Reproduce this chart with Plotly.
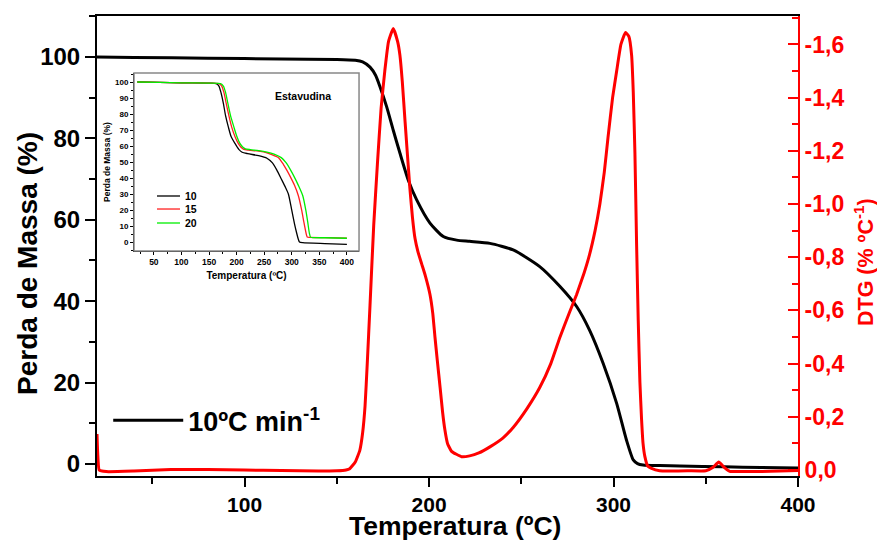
import plotly.graph_objects as go

# ---------------- main TG curve (10 ºC/min) ----------------
tg_temp = [20, 40, 80, 120, 150, 160, 164, 168, 171, 173.4, 177, 180.6, 184.2, 188.7,
           193.3, 200.5, 207.7, 215, 222, 233, 245.6, 260, 271, 280, 287, 294.4, 301.7,
           307, 310.7, 313, 316, 325, 336, 360, 380, 400]
tg_mass = [100, 99.9, 99.7, 99.5, 99.4, 99.2, 98.8, 97.5, 95.5, 92.7, 87.8, 82, 76.4, 69.8,
           64.9, 59.2, 55.9, 55, 54.7, 54.2, 52.6, 48.5, 43.6, 38.7, 32.9, 24.7, 14.9,
           5.9, 1.0, 0.1, -0.25, -0.4, -0.5, -0.7, -0.85, -1.0]

# ---------------- main DTG curve (% ºC-1) ----------------
dtg_temp = [20, 20.4, 21.2, 25, 40, 60, 80, 100, 120, 140, 150, 155, 157, 160, 162.5, 164,
            165.3, 166.5, 168, 170, 172, 174, 176, 178, 180.6, 183, 184.2, 185.5, 187, 189.6,
            191, 192.4, 194, 196, 198, 200.5, 202, 203.2, 204.5, 206, 207.3, 208.6, 210, 212.2,
            217.6, 222, 227, 233, 240, 245.6, 253, 260, 266, 271, 276, 280, 284, 287, 290,
            292.6, 295, 297, 299.5, 301.7, 304, 306.5, 308.3, 309.8, 310.7, 311.6, 312.5,
            313.4, 314.3, 315.2, 316, 317, 318.5, 320.6, 325, 330, 340, 350, 354, 357, 360,
            363, 370, 385, 400]
dtg_vals = [-0.135, -0.06, 0.0, 0.006, 0.004, -0.002, -0.002, 0.0, 0.002, 0.004, 0.003, 0.0,
            -0.005, -0.03, -0.075, -0.14, -0.24, -0.4, -0.62, -0.92, -1.15, -1.36, -1.5,
            -1.61, -1.66, -1.61, -1.56, -1.46, -1.31, -1.06, -0.95, -0.87, -0.82, -0.775,
            -0.73, -0.66, -0.59, -0.5, -0.41, -0.31, -0.22, -0.15, -0.1, -0.07, -0.05,
            -0.053, -0.064, -0.087, -0.12, -0.16, -0.23, -0.31, -0.4, -0.5, -0.59, -0.66,
            -0.74, -0.81, -0.9, -1.0, -1.12, -1.25, -1.4, -1.5, -1.6, -1.645, -1.63, -1.56,
            -1.42, -1.19, -0.85, -0.56, -0.33, -0.19, -0.1, -0.05, -0.015, -0.006, 0.003,
            0.004, 0.003, 0.003, -0.01, -0.03, -0.01, 0.005, 0.006, 0.005, 0.002]

dtg_tickvals = [0, -0.2, -0.4, -0.6, -0.8, -1.0, -1.2, -1.4, -1.6]
dtg_ticktext = ["0,0", "-0,2", "-0,4", "-0,6", "-0,8", "-1,0", "-1,2", "-1,4", "-1,6"]

# ---------------- inset: Estavudina at 10, 15, 20 ºC/min ----------------
ins_names = ["10", "15", "20"]
ins_colors = ["black", "#ff2020", "#00ee00"]
ins_temp_10 = [20, 60, 100, 150, 163, 168, 172, 176, 180, 185, 190, 197, 204, 210, 220, 240,
               255, 265, 273, 281, 288, 294, 300, 305, 309, 312, 314, 320, 360, 400]
ins_mass_10 = [100, 99.8, 99.5, 99.3, 99, 97.5, 93, 86.7, 79, 72, 66, 61.7, 58, 56.2, 55.3, 54,
               52.4, 49.5, 45, 39.5, 34.7, 30, 20, 11.5, 5.6, 1.8, 0.2, -0.2, -0.8, -1.3]
ins_temp_15 = [20, 60, 100, 150, 168, 173, 177, 181, 186, 191, 197, 203, 208, 213, 222, 240,
               255, 265, 276, 285, 291, 298, 305, 312, 318, 322, 326, 328, 332, 360, 400]
ins_mass_15 = [100, 99.8, 99.5, 99.3, 99, 97.5, 93.5, 87, 79, 72, 66, 61.7, 59.3, 58, 57.5,
               56.8, 55.8, 54.5, 52.8, 48.5, 45, 40.5, 35.5, 29, 20, 12.5, 5.6, 3.3, 3, 2.9, 2.6]
ins_temp_20 = [20, 60, 100, 150, 171, 176, 180, 184, 189, 195, 200, 206, 211, 216, 225, 240,
               255, 268, 281, 290, 298, 305, 312, 320, 325.5, 329, 332, 334, 338, 360, 400]
ins_mass_20 = [100, 99.8, 99.5, 99.3, 99, 97.5, 93.5, 87, 79, 72, 66.5, 61.7, 59.5, 58.3, 57.8,
               57.2, 56.3, 55, 52.8, 49.5, 45, 40.5, 35.5, 29, 20, 12.5, 5.6, 3.2, 2.9, 2.8, 2.5]

FONT = "Liberation Sans, Arial, sans-serif"
RED = "#ff0000"

fig = go.Figure()

fig.add_trace(go.Scatter(x=tg_temp, y=tg_mass, mode="lines", name="10ºC min<sup>-1</sup>",
                         line=dict(color="black", width=3, shape="spline", smoothing=0.6),
                         xaxis="x", yaxis="y"))
fig.add_trace(go.Scatter(x=dtg_temp, y=dtg_vals, mode="lines", showlegend=False,
                         line=dict(color=RED, width=3, shape="spline", smoothing=0.4),
                         xaxis="x", yaxis="y2"))

for tx, my, nm, col in zip([ins_temp_10, ins_temp_15, ins_temp_20],
                           [ins_mass_10, ins_mass_15, ins_mass_20], ins_names, ins_colors):
    fig.add_trace(go.Scatter(x=tx, y=my, mode="lines", name=nm, showlegend=False,
                             line=dict(color=col, width=1.3, shape="spline", smoothing=0.6),
                             xaxis="x3", yaxis="y3"))

# inset legend (drawn as keys + labels so the rows sit close together)
shapes = [dict(type="rect", xref="x3 domain", yref="y3 domain", x0=0, x1=1, y0=0, y1=1,
               line=dict(color="#888888", width=1.5), layer="above")]
annotations = []
key_rows = [0.6087, 0.5804, 0.550]
for nm, col, yy in zip(ins_names, ins_colors, key_rows):
    shapes.append(dict(type="line", xref="paper", yref="paper", x0=0.0856, x1=0.1184,
                       y0=yy, y1=yy, line=dict(color=col, width=1.3)))
    annotations.append(dict(text=nm, xref="paper", yref="paper", x=0.1225, y=yy,
                            xanchor="left", yanchor="middle", showarrow=False,
                            font=dict(family=FONT, size=10.5, weight="bold")))

annotations += [
    dict(text="Estavudina", xref="x3", yref="y3", x=320, y=91, showarrow=False,
         font=dict(family=FONT, size=10.5, weight="bold")),
    dict(text="Perda de Massa (%)", xref="paper", yref="paper", x=-0.0984, y=0.461,
         textangle=-90, showarrow=False, xanchor="center", yanchor="middle",
         font=dict(family=FONT, size=28, weight="bold")),
    dict(text="Temperatura (ºC)", xref="paper", yref="paper", x=0.5107, y=-0.108,
         showarrow=False, xanchor="center", yanchor="middle",
         font=dict(family=FONT, size=26.5, weight="bold")),
    dict(text="DTG (% ºC<sup>-1</sup>)", xref="paper", yref="paper", x=1.094, y=0.465,
         textangle=-90, showarrow=False, xanchor="center", yanchor="middle",
         font=dict(family=FONT, size=21.5, weight="bold", color=RED)),
]

fig.update_layout(
    width=877, height=541, autosize=False,
    margin=dict(l=97, r=79, t=16, b=65, autoexpand=False),
    paper_bgcolor="white", plot_bgcolor="white",
    font=dict(family=FONT, color="black"),
    showlegend=True,
    xaxis=dict(domain=[0, 1], range=[20, 400], tick0=0, dtick=100, showgrid=False, zeroline=False,
               automargin=False, showline=True, linecolor="black", linewidth=2, mirror=True,
               ticks="outside", ticklen=9, tickwidth=2, tickcolor="black",
               minor=dict(tick0=0, dtick=50, ticks="outside", ticklen=6, tickwidth=2, tickcolor="black"),
               tickfont=dict(family=FONT, size=21, weight="bold")),
    yaxis=dict(range=[-2.95, 110.07], tick0=0, dtick=20, showgrid=False, zeroline=False,
               automargin=False, showline=True, linecolor="black", linewidth=2,
               ticks="outside", ticklen=10, tickwidth=2, tickcolor="black",
               minor=dict(tick0=0, dtick=10, ticks="outside", ticklen=6, tickwidth=2, tickcolor="black"),
               tickfont=dict(family=FONT, size=24, weight="bold")),
    yaxis2=dict(overlaying="y", side="right", anchor="x", range=[0.0226, -1.707],
                tickmode="array", tickvals=dtg_tickvals, ticktext=dtg_ticktext, automargin=False,
                showgrid=False, zeroline=False, showline=True, linecolor=RED, linewidth=2,
                ticks="inside", ticklen=10, tickwidth=2, tickcolor=RED,
                minor=dict(tickmode="linear", tick0=0, dtick=0.1, ticks="inside", ticklen=6,
                           tickwidth=2, tickcolor=RED),
                tickfont=dict(family=FONT, size=23, weight="bold", color=RED)),
    xaxis3=dict(domain=[0.0528, 0.3738], anchor="y3", range=[14, 422], tick0=0, dtick=50,
                automargin=False, showgrid=False, zeroline=False, showline=True,
                linecolor="black", linewidth=1,
                ticks="outside", ticklen=3, tickwidth=1, tickcolor="black",
                minor=dict(tick0=0, dtick=25, ticks="outside", ticklen=2, tickwidth=1, tickcolor="black"),
                tickfont=dict(family=FONT, size=8.5, weight="bold"),
                title=dict(text="Temperatura (ºC)", font=dict(family=FONT, size=10, weight="bold"), standoff=5)),
    yaxis3=dict(domain=[0.489, 0.876], anchor="x3", range=[-5.5, 105.6], tick0=0, dtick=10,
                automargin=False, showgrid=False, zeroline=False, showline=True,
                linecolor="black", linewidth=1,
                ticks="outside", ticklen=3, tickwidth=1, tickcolor="black",
                minor=dict(tick0=0, dtick=5, ticks="outside", ticklen=2, tickwidth=1, tickcolor="black"),
                tickfont=dict(family=FONT, size=8, weight="bold"),
                title=dict(text="Perda de Massa (%)", font=dict(family=FONT, size=8.5, weight="bold"), standoff=3)),
    legend=dict(x=0.016, y=0.12, xanchor="left", yanchor="middle", bgcolor="rgba(0,0,0,0)",
                itemwidth=70, font=dict(family=FONT, size=27, weight="bold")),
    shapes=shapes,
    annotations=annotations,
)

fig.write_html("out.html")
